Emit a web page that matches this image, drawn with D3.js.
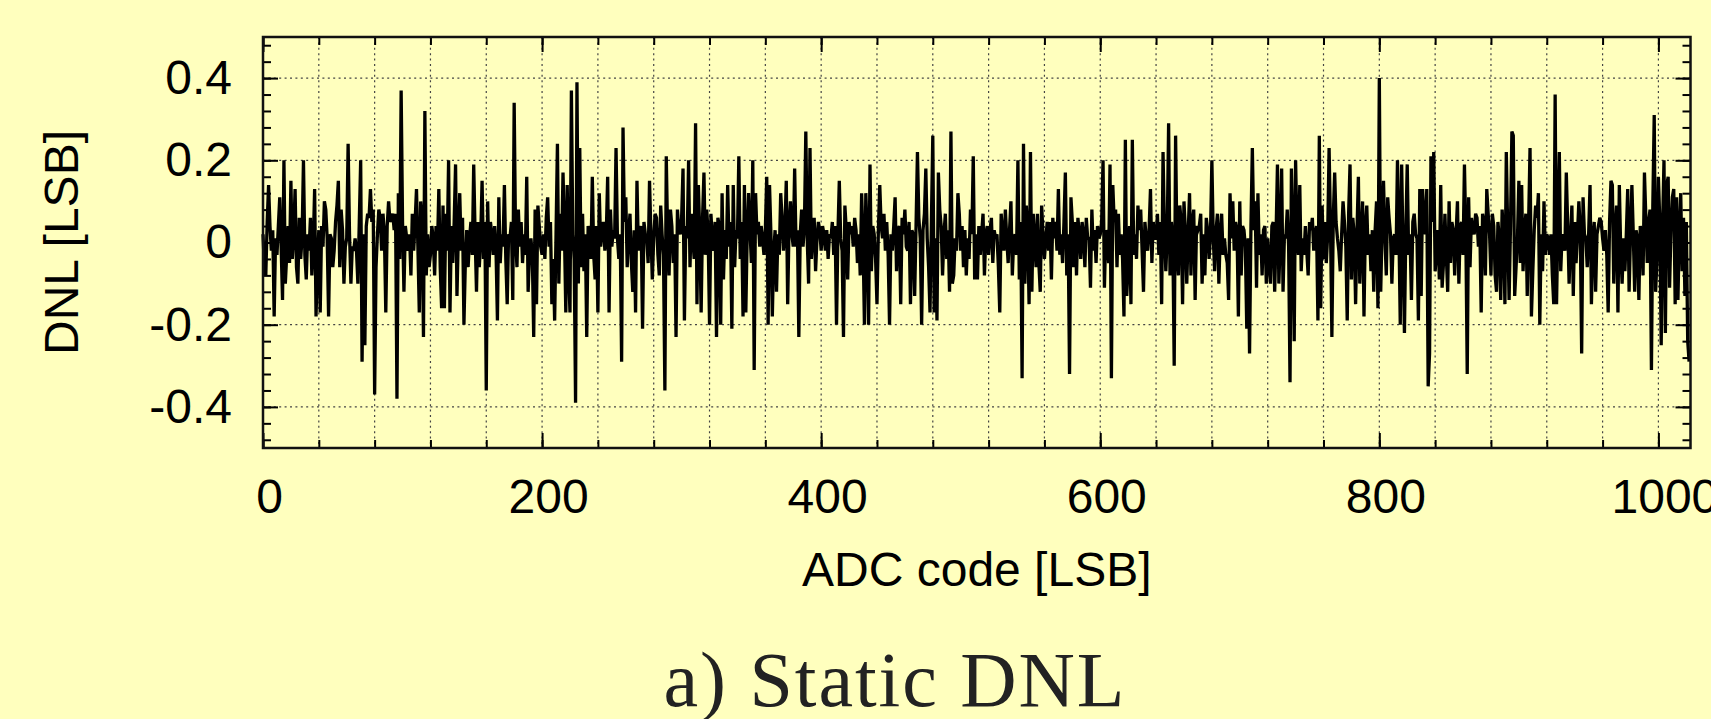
<!DOCTYPE html>
<html>
<head>
<meta charset="utf-8">
<script src="https://cdnjs.cloudflare.com/ajax/libs/d3/7.8.5/d3.min.js"></script>
<style>
  body { margin: 0; background: #ffffbe; overflow: hidden; }
</style>
</head>
<body>
<script>
// tick positions
var xMajor = [0, 200, 400, 600, 800, 1000];
var xMinor = d3.range(0, 1024, 40);
var xGrid = d3.range(40, 1024, 40);
var yMajor = [-0.4, -0.2, 0, 0.2, 0.4];
var yMinor = d3.range(-12, 13).map(function(i) { return i * 0.04; });

// DNL per ADC code (index = code)
var dnl = [
  .02,-.06,-.08,.05,.14,.04,-.02,.03,-.18,.01,-.03,.04,.11,-.01,-.14,.20,
  -.10,-.03,.04,-.05,.15,-.04,.02,.13,-.06,-.10,.06,-.04,.01,.20,-.03,-.09,
  .02,-.02,.06,-.08,-.01,.13,-.18,-.05,.03,-.17,.04,-.01,.10,.08,.01,-.18,
  .02,.01,-.06,-.02,.05,.09,.15,-.06,.08,.03,-.10,-.01,.01,.24,.02,-.10,
  -.01,-.02,.01,-.02,-.10,.05,.20,-.29,.02,-.25,.04,.07,.06,.13,.05,.08,
  -.37,-.06,.02,.08,.06,-.02,.07,.02,-.17,.04,.10,.05,.06,.07,.03,.07,
  -.38,.12,-.04,.37,.05,-.12,.04,.01,-.02,.02,-.08,.07,-.02,.05,.13,-.01,
  -.17,.10,.05,-.23,.32,-.08,.02,-.06,-.03,.04,.01,-.08,.04,-.02,.13,-.06,
  // 128
  -.16,.09,-.16,.07,-.02,.20,-.17,.04,-.05,.05,.19,-.13,.02,.12,-.02,.06,
  -.20,-.05,.03,-.06,.01,.05,-.03,.19,.02,-.12,.05,-.06,.01,.15,-.04,.05,
  -.36,.10,-.06,.05,.02,-.03,.04,-.02,-.19,.11,-.05,.02,-.01,.14,-.04,-.15,
  .02,.01,.05,-.14,.34,.01,-.06,.08,-.01,.05,-.05,.02,-.03,.16,-.12,-.03,
  .01,-.03,-.23,.08,-.15,.09,.04,-.01,-.03,.02,-.04,.06,.11,-.01,.05,-.15,
  -.04,-.19,.02,.24,-.10,.07,-.02,.17,.03,-.17,.14,-.07,-.17,.37,.02,-.04,
  -.39,.39,-.10,.23,-.06,.07,-.07,.02,-.23,.04,.01,-.04,.16,-.03,-.09,.04,
  -.17,.12,-.01,.03,.05,-.02,.02,.16,-.17,.08,-.01,.03,.01,.23,.01,-.04,
  // 256
  .02,-.29,.28,.05,.11,-.06,.02,.07,-.05,-.12,.03,-.17,.15,-.02,.02,.04,
  -.21,.05,.02,.01,-.05,.15,.02,-.09,.01,.07,.06,-.03,-.08,.09,.02,-.03,
  -.36,.21,.01,-.08,.08,.04,-.05,.02,-.23,.08,.03,.02,.06,.18,-.19,.04,
  .01,.20,-.06,.07,.01,-.04,.29,-.15,.14,.02,-.17,.06,.17,-.03,.08,.02,
  -.20,.07,.01,-.02,.05,-.23,.06,.04,-.20,.12,-.09,.03,-.04,.14,-.01,.05,
  -.21,.14,-.06,.03,.01,.21,-.04,.05,-.18,.14,-.17,.02,.12,.03,-.05,.20,
  -.31,.12,.02,.05,-.01,.04,.01,-.03,.03,.16,-.20,.14,.02,-.18,-.02,.03,
  -.12,.02,-.03,.12,.06,-.02,.03,.15,-.15,.04,.10,.02,-.01,.18,-.01,.03,
  // 384
  -.23,.02,.08,-.01,.04,.27,.01,-.10,.23,-.04,.03,.06,-.07,.01,.05,.03,
  -.02,.04,.02,-.02,.03,-.04,.02,.01,.05,-.03,.04,-.20,.02,.15,.01,-.02,
  -.23,.09,.03,-.09,.05,.02,.04,-.01,.06,.03,-.05,.02,-.08,.12,.01,-.20,
  .12,.02,-.20,.19,-.07,.04,.02,-.04,-.15,.03,.14,.04,.01,.07,-.02,.05,
  -.03,-.20,.02,-.02,.04,.11,-.07,.03,.04,-.15,.06,.02,.08,-.01,-.02,.05,
  -.15,.03,.02,-.13,.04,.22,.06,.01,-.20,.03,.07,.18,.01,-.06,-.17,.05,
  .26,-.17,.01,-.19,.17,.08,.04,-.08,.02,.07,-.04,.03,-.12,.27,-.10,-.08,
  .01,-.02,.12,.07,-.02,.04,-.06,.03,-.08,.01,-.04,.08,.02,.21,-.09,.02,
  // 512
  -.09,.04,-.03,.02,.07,-.08,.02,.04,-.03,.03,.06,-.05,.03,.01,.02,-.06,
  -.17,.07,.02,-.02,.08,.01,-.05,.03,.10,-.08,.01,.02,-.03,.20,-.09,.05,
  -.33,.24,-.10,.09,.03,-.15,.22,-.12,.07,.01,-.06,.07,-.05,-.12,.09,.02,
  -.04,.01,.05,-.02,.05,-.09,.06,.01,.05,-.02,.13,-.03,.02,-.05,.05,.17,
  -.08,.02,-.32,.11,.05,-.06,.05,-.08,.06,.02,-.04,.05,.02,-.06,.06,.01,
  .01,-.11,.08,-.02,.03,-.05,.04,.01,.02,.05,.20,-.11,.03,.02,-.05,.19,
  -.33,.14,.05,.08,-.06,.07,-.03,.02,-.04,-.18,.25,-.13,-.05,.04,-.15,.25,
  -.03,.02,-.04,.09,.03,.08,-.02,-.12,.05,.01,-.02,.03,.13,-.05,.05,.01,
  // 640
  .01,.07,-.03,.05,-.15,.22,.03,-.07,.02,.29,-.08,.05,.01,-.30,.26,-.02,
  -.08,.09,.05,-.15,.10,.03,-.10,.02,.12,-.08,.05,.08,-.14,.04,.03,.04,
  .07,-.10,.02,-.08,.06,.03,-.04,.02,.20,.01,-.07,.03,.07,-.10,.02,.07,
  -.03,.01,-.03,-.05,-.14,.12,.01,.10,-.02,.05,.03,-.18,.10,-.08,.04,.03,
  -.01,-.21,.01,-.27,.04,.23,.03,.10,-.11,.12,-.03,.02,-.08,.03,.04,-.10,
  .01,-.05,-.10,.04,.05,-.12,.02,.19,-.10,.01,.18,-.12,.02,.01,.08,-.01,
  -.34,.18,.03,-.24,.20,.02,-.03,.14,-.07,.01,-.03,.04,-.02,-.08,.05,.03,
  .06,-.02,.02,.04,-.19,.26,-.16,.09,-.04,.05,-.05,.02,.23,.04,-.23,.06,
  // 768
  .17,.05,.01,-.02,-.07,.02,.10,.05,-.01,-.19,.07,.19,-.09,.06,.02,-.15,
  .03,.16,-.10,.01,.10,-.18,.04,.09,-.03,.02,-.07,.03,-.12,.03,.10,-.16,
  .40,-.12,.04,.15,.01,-.08,.11,.06,.02,-.10,.01,.02,-.03,.20,.04,-.20,
  .19,-.02,-.22,.03,.19,-.03,.02,-.14,.05,.07,.02,.01,-.19,.13,-.13,.13,
  .05,.02,.13,-.35,-.27,.21,.05,.22,-.07,-.02,.03,-.09,.14,-.11,-.05,.07,
  -.03,-.12,.10,-.05,.05,.03,-.08,.02,.10,-.10,.04,.05,-.03,.19,.02,-.32,
  .11,-.06,.06,.03,.02,.07,.06,-.01,.04,-.17,.07,.05,-.08,.13,.07,.02,
  -.08,.07,.04,-.08,-.12,.05,.01,-.14,.08,.02,-.15,.22,.03,-.14,.04,.27,
  // 896
  .26,-.13,-.06,.01,.15,-.05,.14,-.07,.02,.07,-.13,.05,.23,-.18,-.07,.03,
  .09,.06,.12,-.20,.02,-.07,.10,-.03,.02,.01,-.03,.02,-.08,-.15,.36,-.15,
  .05,.22,-.07,.02,.01,-.02,.17,.04,-.10,.01,.09,-.13,.05,-.05,.02,.10,
  .03,-.27,.11,.02,.01,-.06,.02,.14,-.15,.01,.05,-.12,.02,.04,.06,.05,
  .01,-.02,.03,-.03,-.17,.05,.15,.14,-.10,.03,.09,-.17,.14,-.02,-.10,.01,
  -.07,.02,.13,-.12,.02,.14,.02,-.12,.03,.01,-.14,.04,.02,-.08,.17,.06,
  -.05,.05,.08,-.31,.09,.31,-.12,-.04,.16,.05,-.25,.04,.20,-.22,.14,.16,
  -.11,.03,.11,.13,-.15,.11,-.14,.03,.12,-.07,.06,-.13,.05,-.24,-.29
];

var svgWidth = 1711;
var svgHeight = 719;

var margin = {
  top: 37,
  right: 20.5,
  bottom: 271,
  left: 263
};

var width = svgWidth - margin.left - margin.right;
var height = svgHeight - margin.top - margin.bottom;

var svg = d3.select("body")
  .append("svg")
  .attr("width", svgWidth)
  .attr("height", svgHeight)
  .style("display", "block")
  .style("background", "#ffffbe");

var chartGroup = svg.append("g")
  .attr("transform", `translate(${margin.left}, ${margin.top})`);

var xLinearScale = d3.scaleLinear()
  .domain([0, 1023])
  .range([0, width]);

var yLinearScale = d3.scaleLinear()
  .domain([-0.5, 0.5])
  .range([height, 0]);

// dotted grid
chartGroup.append("g")
  .selectAll("line")
  .data(xGrid)
  .enter()
  .append("line")
  .attr("x1", d => xLinearScale(d))
  .attr("x2", d => xLinearScale(d))
  .attr("y1", 0)
  .attr("y2", height)
  .attr("stroke", "#444")
  .attr("stroke-width", 1.2)
  .attr("stroke-dasharray", "2,3.4");

chartGroup.append("g")
  .selectAll("line")
  .data(yMajor)
  .enter()
  .append("line")
  .attr("x1", 0)
  .attr("x2", width)
  .attr("y1", d => yLinearScale(d))
  .attr("y2", d => yLinearScale(d))
  .attr("stroke", "#444")
  .attr("stroke-width", 1.2)
  .attr("stroke-dasharray", "2,3.4");

// DNL trace
var dnlLine = d3.line()
  .x((d, i) => xLinearScale(i))
  .y(d => yLinearScale(d));

chartGroup.append("path")
  .datum(dnl)
  .attr("d", dnlLine)
  .attr("fill", "none")
  .attr("stroke", "#000")
  .attr("stroke-width", 3.3);

// ticks, all pointing inward
function styleAxis(g) {
  g.select(".domain").remove();
  g.selectAll("line").attr("stroke", "#000").attr("stroke-width", 2);
  g.attr("font-family", "'Liberation Sans', Arial, sans-serif")
    .attr("font-size", 48);
  g.selectAll("text").attr("fill", "#000");
}

chartGroup.append("g")
  .attr("transform", `translate(0, ${height})`)
  .call(d3.axisBottom(xLinearScale).tickValues(xMinor).tickSize(-8).tickFormat(""))
  .call(styleAxis);

chartGroup.append("g")
  .attr("transform", `translate(0, ${height})`)
  .call(d3.axisBottom(xLinearScale).tickValues(xMajor).tickSize(-15).tickPadding(31).tickFormat(d3.format("d")))
  .call(styleAxis)
  .selectAll("text").attr("dx", 6);

chartGroup.append("g")
  .call(d3.axisTop(xLinearScale).tickValues(xMinor).tickSize(-8).tickFormat(""))
  .call(styleAxis);

chartGroup.append("g")
  .call(d3.axisTop(xLinearScale).tickValues(xMajor).tickSize(-15).tickFormat(""))
  .call(styleAxis);

chartGroup.append("g")
  .call(d3.axisLeft(yLinearScale).tickValues(yMinor).tickSize(-8).tickFormat(""))
  .call(styleAxis);

chartGroup.append("g")
  .call(d3.axisLeft(yLinearScale).tickValues(yMajor).tickSize(-15).tickPadding(31)
    .tickFormat(d => d === 0 ? "0" : d.toFixed(1)))
  .call(styleAxis);

chartGroup.append("g")
  .attr("transform", `translate(${width}, 0)`)
  .call(d3.axisRight(yLinearScale).tickValues(yMinor).tickSize(-8).tickFormat(""))
  .call(styleAxis);

chartGroup.append("g")
  .attr("transform", `translate(${width}, 0)`)
  .call(d3.axisRight(yLinearScale).tickValues(yMajor).tickSize(-15).tickFormat(""))
  .call(styleAxis);

// frame
chartGroup.append("rect")
  .attr("x", 0)
  .attr("y", 0)
  .attr("width", width)
  .attr("height", height)
  .attr("fill", "none")
  .attr("stroke", "#111")
  .attr("stroke-width", 2.5);

// axis labels
chartGroup.append("text")
  .attr("transform", `translate(${78 - margin.left}, ${height / 2}) rotate(-90)`)
  .attr("text-anchor", "middle")
  .attr("font-family", "'Liberation Sans', Arial, sans-serif")
  .attr("font-size", 48)
  .text("DNL [LSB]");

chartGroup.append("text")
  .attr("x", width / 2)
  .attr("y", 586 - margin.top)
  .attr("text-anchor", "middle")
  .attr("font-family", "'Liberation Sans', Arial, sans-serif")
  .attr("font-size", 48)
  .text("ADC code [LSB]");

// caption
svg.append("text")
  .attr("x", 894)
  .attr("y", 706)
  .attr("text-anchor", "middle")
  .attr("font-family", "'Liberation Serif', 'Times New Roman', serif")
  .attr("font-size", 78)
  .attr("textLength", 461)
  .attr("fill", "#222")
  .text("a) Static DNL");
</script>
</body>
</html>
